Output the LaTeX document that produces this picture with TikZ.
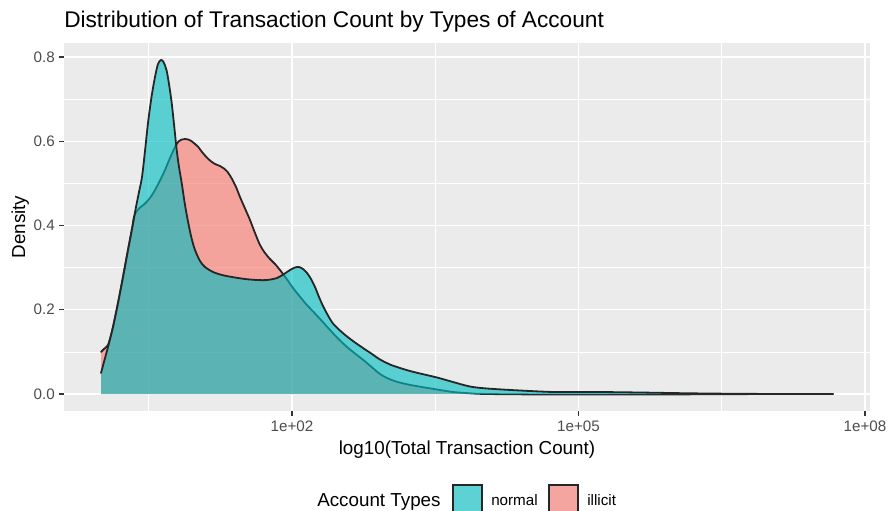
\documentclass[tikz,border=0pt]{standalone}
\usepackage{fontspec}
\setmainfont{Liberation Sans}
\definecolor{panelbg}{HTML}{EBEBEB}
\definecolor{keybg}{HTML}{F2F2F2}
\definecolor{ticktext}{HTML}{4D4D4D}
\definecolor{tickmark}{HTML}{333333}
\definecolor{normalfill}{HTML}{00BFC4}
\definecolor{illicitfill}{HTML}{F8766D}

% density curves in pixel coordinates (x to the right, y downward)
\newcommand{\normalcurve}{plot[smooth, tension=0.5] coordinates {
 (101,373) (104.5,360) (108,347) (113,327) (118,303) (123,277) (128,250)
 (132,229) (136,207) (139,192) (142,177) (145,151) (148,123) (151.5,97)
 (155,77) (158,64) (161,60) (163.5,62) (166.5,70) (169,84) (171.7,103)
 (174.2,126) (176.7,150) (179,167) (181.7,183) (185,205) (188.3,223)
 (191.5,238) (195,250) (200,261) (205,267) (213,272) (222,275) (232,277)
 (245,279) (257,280) (267,280) (277,278) (284,274) (290,270) (295,267.5)
 (299,267) (303,269) (307,273) (311,279) (315,287) (319,297) (323,306)
 (328,315.5) (333,323.5) (340,330.5) (347,336.5) (355,342.5) (363,348)
 (372,354) (380,359.5) (390,364.5) (400,368) (410,371) (420,373.5)
 (437,377.5) (453,382) (470,386.5) (487,388.5) (520,390.5) (553,392)
 (577,392) (600,392) (640,392.5) (690,393.3) (740,393.8) (790,394) (833,394)}}
\newcommand{\illicitcurve}{plot[smooth, tension=0.5] coordinates {
 (101,352) (104.5,348.5) (108,345) (110.5,337) (113,327) (118,303)
 (123,277) (128,250) (132,229) (134,217) (136.5,211.5) (140,207.5)
 (144,204.5) (148.3,200) (152,195) (155,190) (160,180.5) (165,170)
 (170,158) (175,147) (178.5,141.5) (182,139.5) (185,139) (188.3,139.5)
 (192,141.5) (195,144) (198.3,147) (202,152) (205,155.5) (210,160.5)
 (215,164) (220,166) (224,168.5) (228,172.5) (232,179) (236,187)
 (240,197) (245,208.5) (250,220) (255,233) (260,245) (265,253) (270,259)
 (275,264) (280,270) (286.7,279) (293,288) (300,296.7) (306,304)
 (313.3,311.7) (321,320) (330,330) (338,338.5) (346.7,346.7) (355,353.5)
 (363.3,360) (371,366.5) (380,374) (388,378.5) (396.7,381.7) (408,384.5)
 (420,386.7) (440,390) (453,392) (470,393.3) (487,394) (550,394.5)
 (650,394.5) (720,394.2) (780,394) (833,394)}}

\begin{document}
\begin{tikzpicture}[x=0.75pt, y=-0.75pt,
  majorgrid/.style={white, line width=1.1pt},
  minorgrid/.style={white, line width=0.55pt},
  tickmk/.style={tickmark, line width=1.1pt},
  ticklbl/.style={text=ticktext, font=\fontsize{11.4}{13}\selectfont, inner sep=0pt},
  axtitle/.style={font=\fontsize{14.1}{16}\selectfont, inner sep=0pt},
  plottitle/.style={font=\fontsize{17}{20}\selectfont, inner sep=0pt},
  densfill/.style={fill opacity=0.62},
  densline/.style={black!85, line width=1.35pt, line join=round, line cap=round},
  keybox/.style={draw=black!85, line width=1.35pt, fill opacity=0.62}]

\useasboundingbox (0,0) rectangle (887,510);
\clip (0,0) rectangle (887,510);
\fill[white] (0,0) rectangle (887,510);

% panel and grid
\fill[panelbg] (64,43) rectangle (870,411);
\foreach \y in {351.9,267.6,183.4,99.1} \draw[minorgrid] (64,\y) -- (870,\y);
\foreach \x in {148.75,435.25,721.75} \draw[minorgrid] (\x,43) -- (\x,411);
\foreach \y in {394,309.75,225.5,141.25,57} \draw[majorgrid] (64,\y) -- (870,\y);
\foreach \x in {292,578.5,865} \draw[majorgrid] (\x,43) -- (\x,411);

% densities: illicit first, normal on top
\fill[illicitfill, densfill] \illicitcurve -- (101,394) -- cycle;
\draw[densline] \illicitcurve;
\fill[normalfill, densfill] \normalcurve -- (101,394) -- cycle;
\draw[densline] \normalcurve;

% axis ticks
\foreach \y in {394,309.75,225.5,141.25,57} \draw[tickmk] (59.25,\y) -- (64,\y);
\foreach \x in {292,578.5,865} \draw[tickmk] (\x,411) -- (\x,415.75);

% tick labels
\node[ticklbl, anchor=east] (y00) at (55,394) {0.0};
\node[ticklbl, anchor=east] (y02) at (55,309.75) {0.2};
\node[ticklbl, anchor=east] (y04) at (55,225.5) {0.4};
\node[ticklbl, anchor=east] (y06) at (55,141.25) {0.6};
\node[ticklbl, anchor=east] (y08) at (55,57) {0.8};
\node[ticklbl, anchor=base] (x02) at (292,431) {1e+02};
\node[ticklbl, anchor=base] (x05) at (578.5,431) {1e+05};
\node[ticklbl, anchor=base] (x08) at (865,431) {1e+08};

% titles
\node[plottitle, anchor=base west] (title) at (64,28) {Distribution of Transaction Count by Types of Account};
\node[axtitle, anchor=base] (xtitle) at (467,454) {log10(Total Transaction Count)};
\node[axtitle, anchor=base, rotate=90] (ytitle) at (25,227) {Density};

% legend
\node[axtitle, anchor=base west] (legtitle) at (317,506) {Account Types};
\fill[keybg] (453,485) rectangle (482,514);
\fill[keybg] (549,485) rectangle (578,514);
\draw[keybox, fill=normalfill] (453,485) rectangle (482,514);
\draw[keybox, fill=illicitfill] (549,485) rectangle (578,514);
\node[ticklbl, text=black, anchor=base west] (lnormal) at (491,505) {normal};
\node[ticklbl, text=black, anchor=base west] (lillicit) at (587,505) {illicit};
\end{tikzpicture}
\end{document}
